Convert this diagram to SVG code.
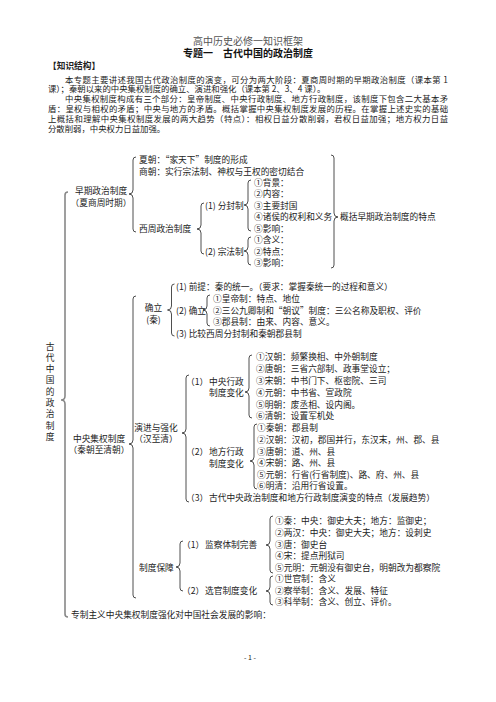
<svg xmlns="http://www.w3.org/2000/svg" width="496" height="702" viewBox="0 0 496 702">
<style>
text{font-family:"Noto Sans CJK SC","Liberation Sans",sans-serif;font-size:8.7px;fill:#222}
.t1{font-family:"Liberation Serif","Noto Sans CJK SC",serif;font-size:10px;fill:#555}
.t2{font-size:10px;font-weight:bold;fill:#111}
.p{font-size:8.4px}
.b{font-weight:bold}
.mid{text-anchor:middle}
.br{fill:none;stroke:#222;stroke-width:0.8}
.big{fill:none;stroke:#888;stroke-width:1.6}
</style>
<rect width="496" height="702" fill="#fff"/>
<g id="header">
<text class="t1 mid" x="248" y="45">高中历史必修一知识框架</text>
<text class="t2 mid" x="248" y="57">专题一　古代中国的政治制度</text>
<text class="b" x="48" y="69">【知识结构】</text>
<text class="p" x="65" y="82.5" textLength="383" lengthAdjust="spacing">本专题主要讲述我国古代政治制度的演变，可分为两大阶段：夏商周时期的早期政治制度（课本第 1</text>
<text class="p" x="48" y="92.3">课）；秦朝以来的中央集权制度的确立、演进和强化（课本第 2、3、4 课）。</text>
<text class="p" x="65" y="102.1" textLength="383" lengthAdjust="spacing">中央集权制度构成有三个部分：皇帝制度、中央行政制度、地方行政制度，该制度下包含二大基本矛</text>
<text class="p" x="48" y="111.9" textLength="400" lengthAdjust="spacing">盾：皇权与相权的矛盾；中央与地方的矛盾。概括掌握中央集权制度发展的历程。在掌握上述史实的基础</text>
<text class="p" x="48" y="121.7" textLength="400" lengthAdjust="spacing">上概括和理解中央集权制度发展的两大趋势（特点）：相权日益分散削弱，君权日益加强；地方权力日益</text>
<text class="p" x="48" y="131.5">分散削弱，中央权力日益加强。</text>
</g>
<g id="connectors">
<path class="big" d="M68,192 Q65,192 65,195 L65,396 Q65,400 61,400 Q65,400 65,404 L65,614 Q65,617 68,617"/>
<path class="br" d="M136,157 Q133,157 133,160 L133,190 Q133,194 129,194 Q133,194 133,198 L133,229 Q133,232 136,232"/>
<path class="br" d="M204,203 Q201,203 201,206 L201,225 Q201,229 197,229 Q201,229 201,233 L201,251 Q201,254 204,254"/>
<path class="br" d="M251,180 Q248,180 248,183 L248,201 Q248,205 244,205 Q248,205 248,209 L248,228 Q248,231 251,231"/>
<path class="br" d="M251,237 Q248,237 248,240 L248,247 Q248,251 244,251 Q248,251 248,255 L248,262 Q248,265 251,265"/>
<path class="br" d="M331,155 Q334,155 334,158 L334,213 Q334,217 338,217 Q334,217 334,221 L334,265 Q334,268 331,268"/>
<path class="br" d="M136,296 Q133,296 133,299 L133,440 Q133,444 129,444 Q133,444 133,448 L133,595 Q133,598 136,598"/>
<path class="br" d="M174.5,284 Q171.5,284 171.5,287 L171.5,306 Q171.5,310 167.5,310 Q171.5,310 171.5,314 L171.5,333 Q171.5,336 174.5,336"/>
<path class="br" d="M210,295 Q207,295 207,298 L207,306 Q207,310 203,310 Q207,310 207,314 L207,323 Q207,326 210,326"/>
<path class="br" d="M189,375 Q186,375 186,378 L186,429 Q186,433 182,433 Q186,433 186,437 L186,499 Q186,502 189,502"/>
<path class="br" d="M252,355 Q249,355 249,358 L249,388 Q249,392 245,392 Q249,392 249,396 L249,415 Q249,418 252,418"/>
<path class="br" d="M257,424 Q254,424 254,427 L254,457 Q254,461 250,461 Q254,461 254,465 L254,486 Q254,489 257,489"/>
<path class="br" d="M183,541 Q180,541 180,544 L180,563 Q180,567 176,567 Q180,567 180,571 L180,588 Q180,591 183,591"/>
<path class="br" d="M273,516 Q270,516 270,519 L270,541 Q270,545 266,545 Q270,545 270,549 L270,570 Q270,573 273,573"/>
<path class="br" d="M273,576 Q270,576 270,579 L270,587 Q270,591 266,591 Q270,591 270,595 L270,602 Q270,605 273,605"/>
</g>
<g id="root">
<text class="mid" x="50" y="349.5">古</text>
<text class="mid" x="50" y="360.8">代</text>
<text class="mid" x="50" y="372.1">中</text>
<text class="mid" x="50" y="383.4">国</text>
<text class="mid" x="50" y="394.7">的</text>
<text class="mid" x="50" y="406">政</text>
<text class="mid" x="50" y="417.3">治</text>
<text class="mid" x="50" y="428.6">制</text>
<text class="mid" x="50" y="439.9">度</text>
</g>
<g id="early">
<text class="mid" x="101" y="194">早期政治制度</text>
<text class="mid" x="101" y="206">（夏商周时期）</text>
</g>
<g id="xia"><text x="139" y="163">夏朝：“家天下”制度的形成</text></g>
<g id="shang"><text x="139" y="174.5">商朝：实行宗法制、神权与王权的密切结合</text></g>
<g id="xizhou"><text x="139" y="232">西周政治制度</text></g>
<g id="fenfeng">
<text x="205" y="208.5">(1) 分封制</text>
<text x="254" y="185.5">①背景：</text>
<text x="254" y="197">②内容：</text>
<text x="254" y="208.5">③主要封国</text>
<text x="254" y="220">④诸侯的权利和义务</text>
<text x="254" y="231.5">⑤影响：</text>
</g>
<g id="zongfa">
<text x="205" y="254.5">(2) 宗法制</text>
<text x="254" y="243">①含义：</text>
<text x="254" y="254.5">②特点：</text>
<text x="254" y="266">③影响：</text>
</g>
<g id="summary-early"><text x="340" y="220">概括早期政治制度的特点</text></g>
<g id="central">
<text class="mid" x="99" y="442">中央集权制度</text>
<text class="mid" x="99" y="453">（秦朝至清朝）</text>
</g>
<g id="queli">
<text class="mid" x="153.5" y="311">确立</text>
<text class="mid" x="153.5" y="323">(秦)</text>
<text x="176" y="290">(1) 前提：秦的统一。（要求：掌握秦统一的过程和意义）</text>
<text x="176" y="313.5">(2) 确立</text>
<text x="213" y="302">①皇帝制：特点、地位</text>
<text x="213" y="313.5">②三公九卿制和“朝议”制度：三公名称及职权、评价</text>
<text x="213" y="325">③郡县制：由来、内容、意义。</text>
<text x="176" y="336.5">(3) 比较西周分封制和秦朝郡县制</text>
</g>
<g id="yanjin">
<text class="mid" x="156" y="431">演进与强化</text>
<text class="mid" x="156" y="442">（汉至清）</text>
</g>
<g id="zhongyang">
<text x="186" y="384.5">（1）<tspan x="209">中央行政</tspan></text>
<text x="209" y="396">制度变化</text>
<text x="256" y="360">①汉朝：频繁换相、中外朝制度</text>
<text x="256" y="372">②唐朝：三省六部制、政事堂设立；</text>
<text x="256" y="384">③宋朝：中书门下、枢密院、三司</text>
<text x="256" y="396">④元朝：中书省、宣政院</text>
<text x="256" y="407.5">⑤明朝：废丞相、设内阁。</text>
<text x="256" y="419">⑥清朝：设置军机处</text>
</g>
<g id="difang">
<text x="186" y="455">（2）<tspan x="209">地方行政</tspan></text>
<text x="209" y="467">制度变化</text>
<text x="257" y="431">①秦朝：郡县制</text>
<text x="257" y="442.5">②汉朝：汉初，郡国并行，东汉末，州、郡、县</text>
<text x="257" y="454.5">③唐朝：道、州、县</text>
<text x="257" y="466">④宋朝：路、州、县</text>
<text x="257" y="477.5">⑤元朝：行省(行省制度)、路、府、州、县</text>
<text x="257" y="489">⑥明清：沿用行省设置。</text>
</g>
<g id="tedian"><text x="186" y="501">（3）<tspan x="209">古代中央政治制度和地方行政制度演变的特点（发展趋势）</tspan></text></g>
<g id="baozhang"><text x="139" y="570.5">制度保障</text></g>
<g id="jiancha">
<text x="182" y="547.5">（1）<tspan x="205">监察体制完善</tspan></text>
<text x="275" y="524">①秦：中央：御史大夫；地方：监御史；</text>
<text x="275" y="536">②两汉：中央：御史大夫；地方：设刺史</text>
<text x="275" y="547.5">③唐：御史台</text>
<text x="275" y="559">④宋：提点刑狱司</text>
<text x="275" y="570.5">⑤元明：元朝没有御史台，明朝改为都察院</text>
</g>
<g id="xuanguan">
<text x="182" y="594">（2）<tspan x="205">选官制度变化</tspan></text>
<text x="275" y="582">①世官制：含义</text>
<text x="275" y="593.5">②察举制：含义、发展、特征</text>
<text x="275" y="605">③科举制：含义、创立、评价。</text>
</g>
<g id="yingxiang"><text x="71" y="618">专制主义中央集权制度强化对中国社会发展的影响：</text></g>
<g id="page"><text class="mid" x="250" y="660" style="font-size:7px">- 1 -</text></g>
</svg>
